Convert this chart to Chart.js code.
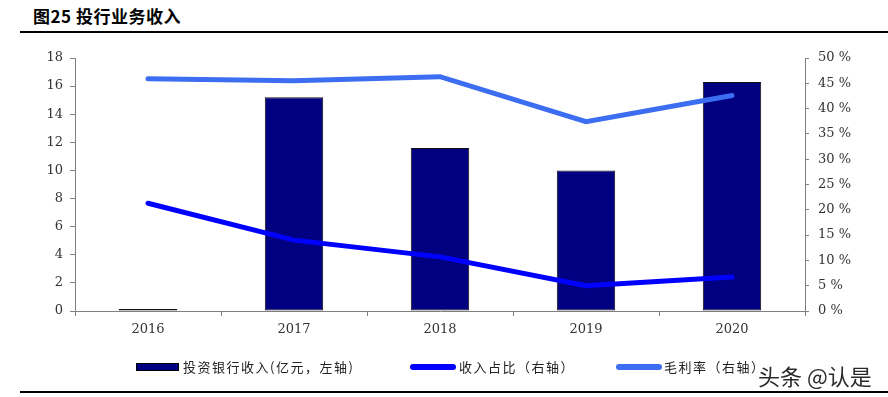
<!DOCTYPE html>
<html><head><meta charset="utf-8">
<script src="https://cdn.jsdelivr.net/npm/chart.js@4"></script>
<style>
html,body{margin:0;padding:0;background:#fff;}
#wrap{position:relative;width:888px;height:397px;overflow:hidden;font-family:"Noto Sans CJK SC",sans-serif;}
#title{position:absolute;left:33px;top:3px;font-size:17px;font-weight:bold;color:#000;letter-spacing:0.5px;}
#topline{position:absolute;left:20px;top:31px;width:868px;height:2px;background:#000;}
#botline{position:absolute;left:20px;top:391px;width:868px;height:2px;background:#000;}
#c{position:absolute;left:0;top:0;}
.lg{position:absolute;top:358px;font-size:13px;color:#222;white-space:nowrap;line-height:18px;letter-spacing:1.5px;}
.sw{position:absolute;top:364px;height:6px;}
#wm{position:absolute;left:758px;top:359px;font-size:22px;color:#2a2a2a;text-shadow:0 0 2px #fff,0 0 2px #fff;}
</style></head><body>
<div id="wrap">
<div id="title">图25 投行业务收入</div>
<div id="topline"></div>
<canvas id="c" width="888" height="397"></canvas>
<div class="sw" style="left:136px;width:41px;background:#000080;border:1px solid #000;top:363px;"></div>
<div class="lg" style="left:183px;">投资银行收入(亿元，左轴)</div>
<div class="sw" style="left:410px;width:46px;background:#0000FF;border-radius:3px;"></div>
<div class="lg" style="left:459px;">收入占比（右轴）</div>
<div class="sw" style="left:616px;width:46px;background:#3D6EF2;border-radius:3px;"></div>
<div class="lg" style="left:664px;">毛利率（右轴）</div>
<div id="wm">头条 @认是</div>
<div id="botline"></div>
</div>
<script>
const categories = ["2016","2017","2018","2019","2020"];
const ibRevenue = [0.15, 15.2, 11.6, 10.0, 16.3];      // 亿元, left axis
const revenueShare = [21.3, 14.0, 10.7, 5.0, 6.7];      // %, right axis
const grossMargin = [45.9, 45.5, 46.3, 37.4, 42.6];     // %, right axis
const leftTicks = [0,2,4,6,8,10,12,14,16,18];
const rightTicks = [0,5,10,15,20,25,30,35,40,45,50];

const tickFont = {family:"'DejaVu Serif', serif", size:13};
new Chart(document.getElementById('c'), {
  data: {
    labels: categories,
    datasets: [
      {type:'line', label:'毛利率（右轴）', data:grossMargin, yAxisID:'y1', borderColor:'#3D6EF2', borderWidth:5, pointRadius:0, tension:0, borderCapStyle:'round', order:0},
      {type:'line', label:'收入占比（右轴）', data:revenueShare, yAxisID:'y1', borderColor:'#0000FF', borderWidth:5, pointRadius:0, tension:0, borderCapStyle:'round', order:1},
      {type:'bar', label:'投资银行收入(亿元，左轴)', data:ibRevenue, yAxisID:'y', backgroundColor:'#000080', borderColor:'#111', borderWidth:1, borderSkipped:false, barPercentage:0.4, categoryPercentage:1, order:2}
    ]
  },
  options: {
    responsive:false, animation:false,
    layout:{padding:{top:58, bottom:56, left:0, right:0}},
    plugins:{legend:{display:false}, tooltip:{enabled:false}},
    scales:{
      x:{offset:true, grid:{display:true, drawOnChartArea:false, offset:true, tickLength:5, color:'#808080'},
         border:{color:'#808080', width:1},
         ticks:{font:tickFont, color:'#333', padding:6},
         afterFit:s=>{s.height=30;}},
      y:{position:'left', min:0, max:18, afterBuildTicks:s=>{s.ticks=leftTicks.map(v=>({value:v}));},
         grid:{drawOnChartArea:false, tickLength:5, color:'#808080'},
         border:{color:'#808080', width:1},
         ticks:{font:tickFont, color:'#333', padding:7},
         afterFit:s=>{s.width=75;}},
      y1:{position:'right', min:0, max:50, afterBuildTicks:s=>{s.ticks=rightTicks.map(v=>({value:v}));},
         grid:{drawOnChartArea:false, tickLength:4, color:'#808080'},
         border:{color:'#808080', width:1},
         ticks:{font:tickFont, color:'#333', padding:9, callback:v=>v+' %'},
         afterFit:s=>{s.width=83;}}
    }
  }
});
</script>
</body></html>
